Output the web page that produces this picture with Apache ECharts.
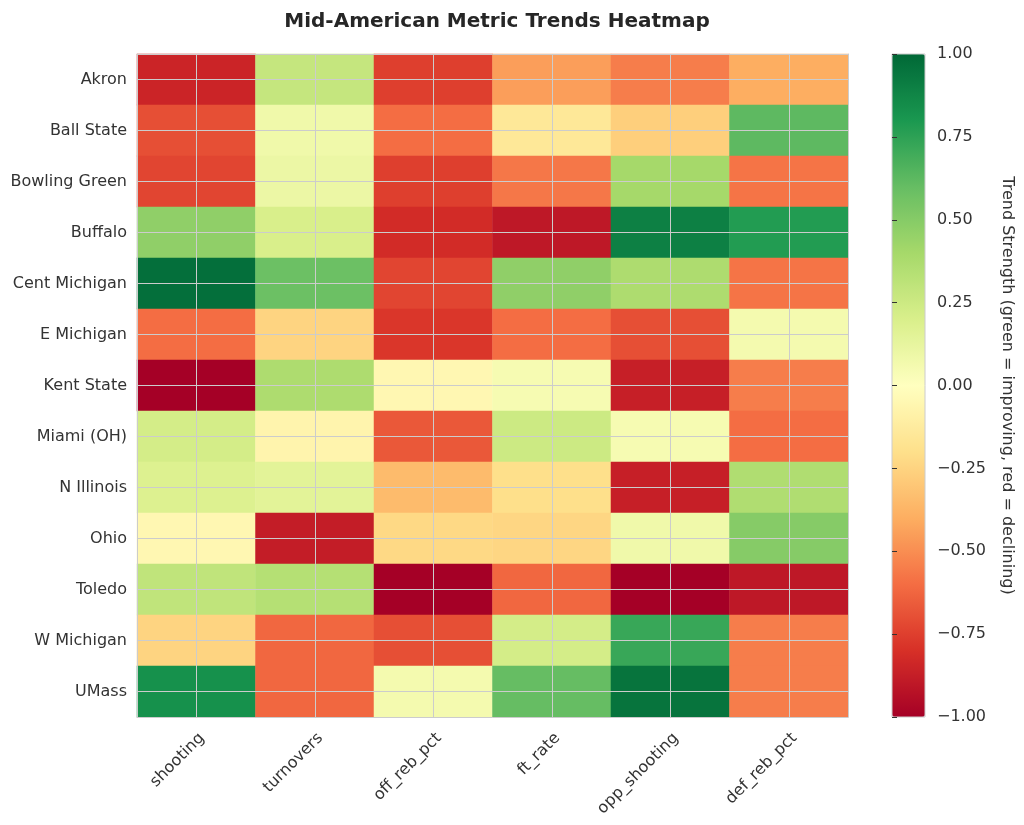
<!DOCTYPE html>
<html>
<head>
<meta charset="utf-8">
<script src="https://cdn.jsdelivr.net/npm/echarts@6/dist/echarts.min.js"></script>
<style>html,body{margin:0;padding:0;background:#fff;}#main{width:1024px;height:825px;}</style>
</head>
<body>
<div id="main"></div>
<script>
const teams = ['Akron','Ball State','Bowling Green','Buffalo','Cent Michigan','E Michigan','Kent State','Miami (OH)','N Illinois','Ohio','Toledo','W Michigan','UMass'];
const metrics = ['shooting','turnovers','off_reb_pct','ft_rate','opp_shooting','def_reb_pct'];

const shooting     = [-0.85,-0.70,-0.73, 0.47, 0.97,-0.60,-1.00, 0.22, 0.18,-0.05, 0.30,-0.25, 0.83];
const turnovers    = [ 0.28, 0.08, 0.10, 0.20, 0.58,-0.25, 0.37,-0.07, 0.15,-0.88, 0.34,-0.62,-0.62];
const off_reb_pct  = [-0.75,-0.60,-0.75,-0.82,-0.73,-0.78,-0.05,-0.67,-0.35,-0.23,-1.00,-0.70, 0.06];
const ft_rate      = [-0.45,-0.15,-0.57,-0.90, 0.47,-0.60, 0.05, 0.25,-0.20,-0.24,-0.62, 0.22, 0.60];
const opp_shooting = [-0.55,-0.27, 0.40, 0.90, 0.37,-0.70,-0.87, 0.05,-0.87, 0.08,-1.00, 0.72, 0.95];
const def_reb_pct  = [-0.40, 0.62,-0.58, 0.78,-0.58, 0.06,-0.55,-0.60, 0.36, 0.50,-0.90,-0.55,-0.55];

const columns = [shooting, turnovers, off_reb_pct, ft_rate, opp_shooting, def_reb_pct];
const data = [];
columns.forEach((col, xi) => col.forEach((v, yi) => data.push([xi, yi, v])));

const RdYlGn = ['#a50026','#d73027','#f46d43','#fdae61','#fee08b','#ffffbf','#d9ef8b','#a6d96a','#66bd63','#1a9850','#006837'];
const FONT = 'DejaVu Sans';
const TXT = '#333333';
const GRIDC = '#cccccc';

const chart = echarts.init(document.getElementById('main'));
chart.setOption({
  backgroundColor: '#ffffff',
  animation: false,
  textStyle: { fontFamily: FONT },
  title: {
    text: 'Mid-American Metric Trends Heatmap',
    left: 492, top: 7, textAlign: 'center',
    textStyle: { fontFamily: FONT, fontSize: 20, fontWeight: 'bold', color: '#262626' }
  },
  grid: [
    { left: 137, top: 54, width: 711, height: 663, show: false },
    { left: 892, top: 54, width: 33, height: 663, show: true, borderColor: GRIDC, borderWidth: 1, backgroundColor: 'transparent', z: 10 }
  ],
  xAxis: [
    { type: 'category', gridIndex: 0, data: metrics, position: 'bottom', z: 10,
      axisLine: { show: true, lineStyle: { color: GRIDC, width: 1 } },
      axisTick: { show: false }, splitLine: { show: false },
      axisLabel: { rotate: 45, margin: 13, verticalAlign: 'top', fontSize: 16, color: TXT, fontFamily: FONT } },
    { type: 'value', gridIndex: 0, min: 0, max: 12, interval: 1, position: 'top', z: 10,
      axisLine: { show: true, lineStyle: { color: GRIDC, width: 1 } },
      axisTick: { show: false }, axisLabel: { show: false },
      splitLine: { show: true, lineStyle: { color: ['rgba(0,0,0,0)', GRIDC], width: 1 } } },
    { type: 'value', gridIndex: 1, min: 0, max: 1, show: false }
  ],
  yAxis: [
    { type: 'category', gridIndex: 0, data: teams, inverse: true, position: 'left', z: 10,
      axisLine: { show: true, lineStyle: { color: GRIDC, width: 1 } },
      axisTick: { show: false }, splitLine: { show: false },
      axisLabel: { margin: 10, fontSize: 16, color: TXT, fontFamily: FONT } },
    { type: 'value', gridIndex: 0, min: 0, max: 26, interval: 1, position: 'right', z: 10,
      axisLine: { show: true, lineStyle: { color: GRIDC, width: 1 } },
      axisTick: { show: false }, axisLabel: { show: false },
      splitLine: { show: true, lineStyle: { color: ['rgba(0,0,0,0)', GRIDC], width: 1 } } },
    { type: 'value', gridIndex: 1, min: -1, max: 1, interval: 0.25, position: 'right', z: 11,
      axisLine: { show: false },
      axisTick: { show: true, length: 5, lineStyle: { color: TXT, width: 1 } },
      splitLine: { show: false },
      axisLabel: { margin: 12, fontSize: 16, color: TXT, fontFamily: FONT,
        formatter: v => (v < 0 ? '\u2212' : '') + Math.abs(v).toFixed(2) },
      name: 'Trend Strength (green = improving, red = declining)',
      nameLocation: 'middle', nameRotate: -90, nameGap: 74,
      nameTextStyle: { fontSize: 16, color: TXT, fontFamily: FONT } }
  ],
  visualMap: {
    type: 'continuous', min: -1, max: 1, seriesIndex: 0,
    orient: 'vertical', left: 892, top: 54, itemWidth: 33, itemHeight: 663,
    padding: 0, calculable: false, hoverLink: false, text: null, showLabel: false,
    inRange: { color: RdYlGn }
  },
  series: [{
    type: 'heatmap', xAxisIndex: 0, yAxisIndex: 0, data: data,
    itemStyle: { borderWidth: 0 },
    emphasis: { disabled: true }
  }]
});
</script>
</body>
</html>
